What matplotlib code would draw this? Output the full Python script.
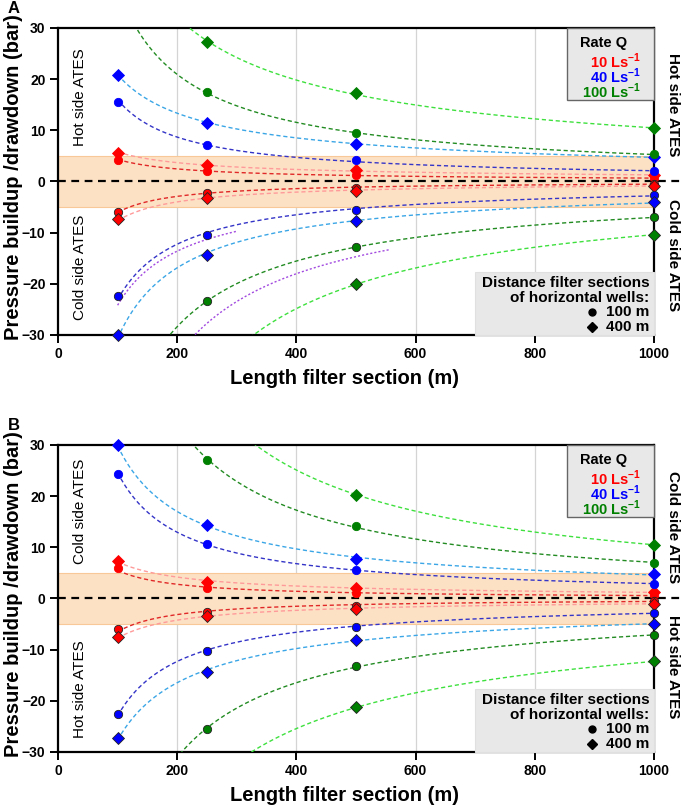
import numpy as np
import matplotlib
matplotlib.use("Agg")
import matplotlib.pyplot as plt
from matplotlib.patches import Rectangle

plt.rcParams['font.family'] = ['Liberation Sans', 'DejaVu Sans']
plt.rcParams['mathtext.fontset'] = 'custom'
plt.rcParams['mathtext.rm'] = 'Liberation Sans:bold'
plt.rcParams['mathtext.bf'] = 'Liberation Sans:bold'

nan = np.nan
x_len = [100, 250, 500, 1000]
x_ticks = [0, 200, 400, 600, 800, 1000]
y_ticks = [-30, -20, -10, 0, 10, 20, 30]

# Panel A (upper = hot side, lower = cold side)
a_hot_10_100 = [4.1, 2.1, 1.3, 0.6]
a_hot_10_400 = [5.5, 3.3, 2.2, 1.2]
a_hot_40_100 = [15.6, 7.2, 4.1, 2.0]
a_hot_40_400 = [20.9, 11.5, 7.4, 4.7]
a_hot_100_100 = [nan, 17.4, 9.4, 5.3]
a_hot_100_400 = [nan, 27.3, 17.2, 10.4]
a_cold_10_100 = [-5.9, -2.3, -1.2, -0.5]
a_cold_10_400 = [-7.3, -3.3, -1.9, -0.8]
a_cold_40_100 = [-22.3, -10.4, -5.5, -2.7]
a_cold_40_400 = [-30.0, -14.3, -7.8, -4.1]
a_cold_100_100 = [nan, -23.3, -12.9, -7.0]
a_cold_100_400 = [nan, nan, -20.1, -10.4]
# extra purple dotted curves in panel A
a_purple1_x = [100, 200, 300]
a_purple1_y = [-24.0, -13.9, -9.6]
a_purple2_x = [230, 406, 557]
a_purple2_y = [-29.9, -17.8, -13.3]

# Panel B (upper = cold side, lower = hot side)
b_cold_10_100 = [5.9, 2.0, 1.1, 0.6]
b_cold_10_400 = [7.4, 3.3, 2.1, 1.2]
b_cold_40_100 = [24.4, 10.7, 5.5, 2.9]
b_cold_40_400 = [30.0, 14.3, 7.8, 4.7]
b_cold_100_100 = [nan, 27.1, 14.1, 7.0]
b_cold_100_400 = [nan, nan, 20.3, 10.5]
b_hot_10_100 = [-5.9, -2.7, -1.4, -0.5]
b_hot_10_400 = [-7.6, -3.5, -2.0, -1.0]
b_hot_40_100 = [-22.5, -10.2, -5.6, -2.8]
b_hot_40_400 = [-27.3, -14.3, -8.2, -4.9]
b_hot_100_100 = [nan, -25.6, -13.1, -7.2]
b_hot_100_400 = [nan, nan, -21.3, -12.3]

rate_labels = ['10', '40', '100']
rate_colors = ['#ff0000', '#0000ff', '#008000']
line_colors_100 = ['#e02828', '#3434c8', '#228b22']
line_colors_400 = ['#ff9a9a', '#3ba6e6', '#3ee03e']
purple = '#a24ae0'
band_limit = 5


def fit_curve(xs, ys, x0, x1):
    xs = np.asarray(xs, float)
    ys = np.asarray(ys, float)
    m = ~np.isnan(ys)
    sgn = np.sign(ys[m][0])
    b, a = np.polyfit(np.log(xs[m]), np.log(np.abs(ys[m])), 1)
    xc = np.linspace(x0, x1, 300)
    return xc, sgn * np.exp(a) * xc ** b


def draw_series(ax, ys, marker, mcolor, lcolor, neg):
    xc, yc = fit_curve(x_len, ys, 100, 1000)
    ax.plot(xc, yc, color=lcolor, lw=1.0, ls=(0, (3, 2)), zorder=3)
    ec = '#222222' if neg else mcolor
    ms = 6.0 if marker == 'o' else 6.5
    ax.plot(x_len, ys, ls='none', marker=marker, ms=ms, mfc=mcolor, mec=ec,
            mew=0.6, zorder=5, clip_on=False)


def panel(ax, pos, neg, left_top, left_bot, right_top, right_bot, letter):
    ax.set_xlim(0, 1000)
    ax.set_ylim(-30, 30)
    ax.axhspan(-band_limit, band_limit, facecolor='#fde1c4', edgecolor='#f8c898',
               lw=0.8, zorder=1)
    for xv in x_ticks[1:-1]:
        ax.axvline(xv, color='#d4d4d4', lw=0.9, zorder=0.5)
    ax.plot([0, 1050], [0, 0], color='black', lw=1.6, ls=(0, (3.5, 2.5)),
            zorder=4, clip_on=False)
    for group, neg_flag in ((pos, False), (neg, True)):
        for i, (s100, s400) in enumerate(group):
            draw_series(ax, s100, 'o', rate_colors[i], line_colors_100[i], neg_flag)
            draw_series(ax, s400, 'D', rate_colors[i], line_colors_400[i], neg_flag)
    ax.set_xticks(x_ticks)
    ax.set_yticks(y_ticks)
    ax.tick_params(direction='out', length=6, width=1.4, labelsize=10, pad=3)
    for lab in ax.get_xticklabels() + ax.get_yticklabels():
        lab.set_fontweight('bold')
    for sp in ax.spines.values():
        sp.set_linewidth(1.6)
    ax.set_xlabel('Length filter section (m)', fontsize=14.5, fontweight='bold')
    ax.xaxis.set_label_coords(0.48, -0.112)
    ax.set_ylabel('Pressure buildup /drawdown (bar)', fontsize=14.5, fontweight='bold')
    ax.yaxis.set_label_coords(-0.058, 0.513)
    # side texts
    ax.text(37, left_top[1], left_top[0], rotation=90, ha='center', va='center',
            fontsize=11, zorder=6)
    ax.text(37, left_bot[1], left_bot[0], rotation=90, ha='center', va='center',
            fontsize=11, zorder=6)
    ax.text(1.032, right_top[1], right_top[0], rotation=-90, ha='center', va='center',
            fontsize=11, fontweight='bold', transform=ax.get_yaxis_transform())
    ax.text(1.032, right_bot[1], right_bot[0], rotation=-90, ha='center', va='center',
            fontsize=11, fontweight='bold', transform=ax.get_yaxis_transform())
    # legend box: rate
    ax.add_patch(Rectangle((0.854, 0.765), 0.146, 0.235, transform=ax.transAxes,
                           facecolor='#e8e8e8', edgecolor='#666666', lw=1.0,
                           zorder=7, clip_on=False))
    ax.text(0.876, 0.952, 'Rate Q', transform=ax.transAxes, ha='left', va='center',
            fontsize=10.5, fontweight='bold', zorder=8)
    for i, (lab, c) in enumerate(zip(rate_labels, rate_colors)):
        ax.text(0.978, 0.890 - i * 0.048, lab + ' Ls$^{-1}$', transform=ax.transAxes,
                ha='right', va='center', fontsize=10.5, fontweight='bold', color=c,
                zorder=8)
    # legend box: distance
    ax.add_patch(Rectangle((0.70, 0.0), 0.30, 0.205, transform=ax.transAxes,
                           facecolor='#e8e8e8', edgecolor='#e0e0e0', lw=0.8,
                           zorder=7, clip_on=False))
    ax.text(0.992, 0.168, 'Distance filter sections', transform=ax.transAxes,
            ha='right', va='center', fontsize=11, fontweight='bold', zorder=8)
    ax.text(0.992, 0.122, 'of horizontal wells:', transform=ax.transAxes,
            ha='right', va='center', fontsize=11, fontweight='bold', zorder=8)
    for j, (mk, lab) in enumerate((('o', '100 m'), ('D', '400 m'))):
        yy = 0.074 - j * 0.048
        ax.plot([0.896], [yy], marker=mk, ms=5 if mk == 'o' else 5.5, color='black',
                transform=ax.transAxes, zorder=8, clip_on=False)
        ax.text(0.992, yy, lab, transform=ax.transAxes, ha='right', va='center',
                fontsize=11, fontweight='bold', zorder=8)
    ax.text(-0.084, 1.04, letter, transform=ax.transAxes, ha='left', va='bottom',
            fontsize=12, fontweight='bold')


fig = plt.figure(figsize=(6.85, 8.06), dpi=100)
axA = fig.add_axes([0.0847, 0.5844, 0.870, 0.3809])
axB = fig.add_axes([0.0847, 0.0670, 0.870, 0.3809])

panel(axA,
      [(a_hot_10_100, a_hot_10_400), (a_hot_40_100, a_hot_40_400),
       (a_hot_100_100, a_hot_100_400)],
      [(a_cold_10_100, a_cold_10_400), (a_cold_40_100, a_cold_40_400),
       (a_cold_100_100, a_cold_100_400)],
      ('Hot side ATES', 16.4), ('Cold side ATES', -16.8),
      ('Hot side ATES', 15.0), ('Cold side ATES', -14.3), 'A')
for px, py in ((a_purple1_x, a_purple1_y), (a_purple2_x, a_purple2_y)):
    b, a = np.polyfit(np.log(px), np.log(np.abs(py)), 1)
    xc = np.linspace(px[0], px[-1], 200)
    axA.plot(xc, -np.exp(a) * xc ** b, color=purple, lw=1.0, ls=(0, (1.5, 1.5)),
             zorder=2.8)

panel(axB,
      [(b_cold_10_100, b_cold_10_400), (b_cold_40_100, b_cold_40_400),
       (b_cold_100_100, b_cold_100_400)],
      [(b_hot_10_100, b_hot_10_400), (b_hot_40_100, b_hot_40_400),
       (b_hot_100_100, b_hot_100_400)],
      ('Cold side ATES', 17.0), ('Hot side ATES', -17.8),
      ('Cold side ATES', 13.9), ('Hot side ATES', -13.3), 'B')

fig.savefig('out.png', dpi=100)
